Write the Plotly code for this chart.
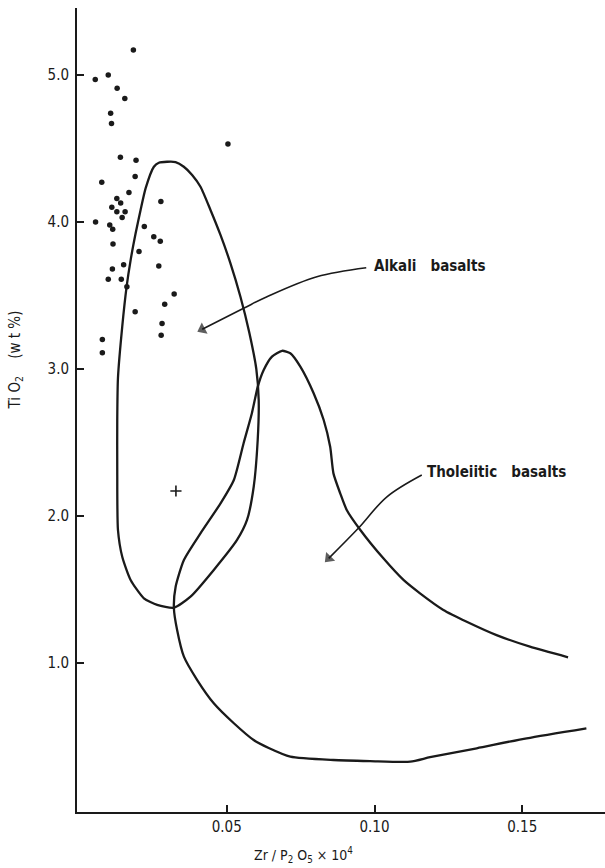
import plotly.graph_objects as go

# Sample points: Zr/P2O5 x 10^4 vs TiO2 (wt %)
pts_x = [0.0184, 0.0055, 0.0099, 0.0129, 0.0155, 0.0107, 0.0110, 0.0140, 0.0193, 0.0190,
         0.0077, 0.0169, 0.0128, 0.0141, 0.0111, 0.0128, 0.0156, 0.0146, 0.0277, 0.0056,
         0.0104, 0.0114, 0.0221, 0.0253, 0.0275, 0.0115, 0.0203, 0.0270, 0.0151, 0.0113,
         0.0099, 0.0143, 0.0162, 0.0322, 0.0190, 0.0290, 0.0281, 0.0278, 0.0079, 0.0079,
         0.0504]
pts_y = [5.17, 4.97, 5.00, 4.91, 4.84, 4.74, 4.67, 4.44, 4.42, 4.31,
         4.27, 4.20, 4.16, 4.13, 4.10, 4.07, 4.07, 4.03, 4.14, 4.00,
         3.98, 3.95, 3.97, 3.90, 3.87, 3.85, 3.80, 3.70, 3.71, 3.68,
         3.61, 3.61, 3.56, 3.51, 3.39, 3.44, 3.31, 3.23, 3.20, 3.11,
         4.53]
cross_x = [0.0328]
cross_y = [2.17]

# Alkali basalt field (closed outline)
alk_x = [0.0321, 0.02645, 0.02196, 0.01747, 0.01463, 0.01318, 0.01294, 0.01294, 0.01318, 0.01463,
         0.01611, 0.01747, 0.01916, 0.02084, 0.02253, 0.02534, 0.02703, 0.02983, 0.03267, 0.03547,
         0.03828, 0.04111, 0.04449, 0.04787, 0.05125, 0.05463, 0.05760, 0.06000, 0.06081,
         0.06047, 0.05912, 0.05686, 0.05348, 0.04561, 0.03774, 0.0321]
alk_y = [1.376, 1.395, 1.440, 1.565, 1.723, 1.905, 2.313, 2.653, 2.939, 3.288,
         3.560, 3.741, 3.923, 4.082, 4.229, 4.376, 4.403, 4.410, 4.408, 4.376,
         4.320, 4.240, 4.082, 3.912, 3.719, 3.492, 3.250, 3.000, 2.789,
         2.517, 2.199, 1.973, 1.837, 1.633, 1.451, 1.376]

# Tholeiitic basalt field (open outline)
tho_x = [0.1655, 0.1526, 0.1413, 0.1312, 0.1233, 0.1154, 0.1098, 0.1030, 0.0952, 0.0906,
         0.0884, 0.0861, 0.0850, 0.0828, 0.0794, 0.0749, 0.0715, 0.0687, 0.0653, 0.0625,
         0.0605, 0.0585, 0.0557, 0.0524, 0.0479, 0.0411, 0.0355, 0.0327, 0.0321, 0.0332,
         0.0355, 0.0400, 0.0456, 0.0524, 0.0591, 0.0642, 0.0715, 0.0861, 0.0985, 0.1121,
         0.1188, 0.1346, 0.1515, 0.1717]
tho_y = [1.039, 1.111, 1.190, 1.281, 1.361, 1.474, 1.565, 1.712, 1.905, 2.041,
         2.154, 2.290, 2.471, 2.653, 2.835, 3.016, 3.107, 3.124, 3.084, 2.993,
         2.880, 2.699, 2.495, 2.245, 2.086, 1.882, 1.701, 1.519, 1.376, 1.224,
         1.043, 0.884, 0.726, 0.590, 0.476, 0.422, 0.363, 0.340, 0.333, 0.329,
         0.359, 0.420, 0.488, 0.556]

# Label arrows
alk_arrow_x = [0.0972, 0.0805, 0.0636, 0.0557, 0.0417]
alk_arrow_y = [3.689, 3.628, 3.492, 3.413, 3.270]
tho_arrow_x = [0.1160, 0.1041, 0.0946, 0.0845]
tho_arrow_y = [2.279, 2.129, 1.918, 1.712]

labels = ["Alkali   basalts", "Tholeiitic   basalts"]
label_x = [0.0993, 0.1171]
label_y = [3.703, 2.301]

x_ticks = [0.05, 0.10, 0.15]
y_ticks = [1.0, 2.0, 3.0, 4.0, 5.0]

ink = "#1a1a1a"
font_family = "DejaVu Sans Condensed"
fig = go.Figure()

fig.add_trace(go.Scatter(x=alk_x, y=alk_y, mode="lines",
                         line=dict(color=ink, width=2.3, shape="spline", smoothing=0.6)))
fig.add_trace(go.Scatter(x=tho_x, y=tho_y, mode="lines",
                         line=dict(color=ink, width=2.3, shape="spline", smoothing=0.6)))
fig.add_trace(go.Scatter(x=pts_x, y=pts_y, mode="markers",
                         marker=dict(color=ink, size=5.5)))
fig.add_trace(go.Scatter(x=cross_x, y=cross_y, mode="markers",
                         marker=dict(symbol="cross-thin", size=8, line=dict(color=ink, width=1.6))))
for ax_, ay_ in ((alk_arrow_x, alk_arrow_y), (tho_arrow_x, tho_arrow_y)):
    sizes = [0] * (len(ax_) - 1) + [11]
    fig.add_trace(go.Scatter(x=ax_, y=ay_, mode="lines+markers",
                             line=dict(color=ink, width=1.6, shape="spline"),
                             marker=dict(symbol="triangle-up", angleref="previous",
                                         size=sizes, color=ink, line=dict(width=0))))

annotations = []
for t, lx, ly in zip(labels, label_x, label_y):
    annotations.append(dict(x=lx, y=ly, xref="x", yref="y", text=t, showarrow=False,
                            xanchor="left", yanchor="middle",
                            font=dict(family=font_family, size=15, color=ink, weight="bold")))
annotations.append(dict(x=-0.117, y=3.06, xref="paper", yref="y", textangle=-90,
                        text="Ti O<sub>2</sub>    (w t %)", showarrow=False,
                        xanchor="center", yanchor="middle",
                        font=dict(family=font_family, size=15, color=ink)))
annotations.append(dict(x=0.076, y=-0.0535, xref="x", yref="paper",
                        text="Zr / P<sub>2</sub> O<sub>5</sub> × 10<sup>4</sup>", showarrow=False,
                        xanchor="center", yanchor="middle",
                        font=dict(family=font_family, size=14, color=ink)))

fig.update_layout(
    width=605, height=868,
    margin=dict(l=77, r=0, t=8, b=56),
    paper_bgcolor="white", plot_bgcolor="white",
    showlegend=False,
    annotations=annotations,
    xaxis=dict(range=[-0.00068, 0.178], tickvals=x_ticks, ticktext=[f"{v:.2f}" for v in x_ticks],
               ticks="inside", ticklen=7, tickwidth=1.5, tickcolor=ink,
               showline=True, linecolor=ink, linewidth=2, showgrid=False, zeroline=False,
               tickfont=dict(family=font_family, size=15, color=ink)),
    yaxis=dict(range=[-0.0136, 5.456], tickvals=y_ticks, ticktext=[f"{v:.1f}" for v in y_ticks],
               ticks="inside", ticklen=7, tickwidth=1.5, tickcolor=ink,
               showline=True, linecolor=ink, linewidth=2, showgrid=False, zeroline=False,
               ticklabelstandoff=3,
               tickfont=dict(family=font_family, size=15, color=ink)),
)

fig.write_html("out.html", config={"displayModeBar": False},
               post_script="document.body.style.margin='0px';document.body.style.overflow='hidden';")
